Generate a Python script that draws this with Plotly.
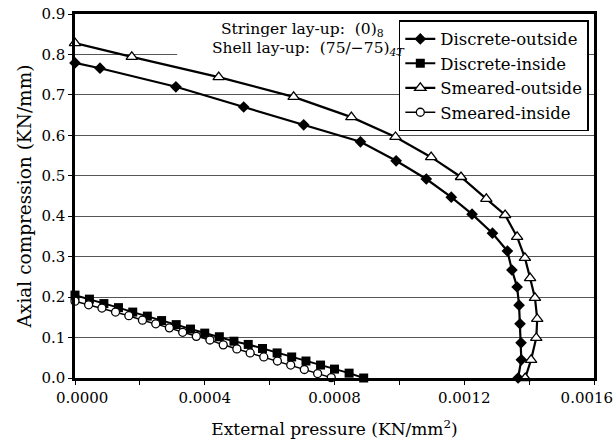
import plotly.graph_objects as go

# Discrete-outside (filled diamonds)
do_x = [0.0, 0.000077, 0.000311, 0.00052, 0.000705, 0.00088, 0.00099, 0.001083, 0.00116, 0.001224,
        0.001287, 0.001333, 0.001347, 0.001363, 0.001369, 0.001372, 0.001375, 0.001376, 0.001366]
do_y = [0.779, 0.766, 0.72, 0.67, 0.626, 0.584, 0.537, 0.492, 0.447, 0.405,
        0.358, 0.314, 0.267, 0.225, 0.18, 0.134, 0.087, 0.045, 0.0]

# Discrete-inside (filled squares)
di_x = [0.0, 0.0000445, 0.000089, 0.000134, 0.000178, 0.000223, 0.000267, 0.000312, 0.000356, 0.0004,
        0.000445, 0.00049, 0.000534, 0.000578, 0.000623, 0.000668, 0.000712, 0.000757, 0.0008, 0.000845, 0.00089]
di_y = [0.205, 0.195, 0.184, 0.174, 0.163, 0.153, 0.142, 0.132, 0.121, 0.111,
        0.102, 0.091, 0.083, 0.073, 0.062, 0.052, 0.042, 0.032, 0.022, 0.012, 0.0]

# Smeared-outside (open triangles)
so_x = [0.0, 0.000175, 0.000443, 0.000674, 0.000852, 0.000988, 0.001098, 0.00119, 0.001268, 0.001326,
        0.001363, 0.001387, 0.001403, 0.001418, 0.001425, 0.001422, 0.001406, 0.001388]
so_y = [0.828, 0.794, 0.744, 0.695, 0.645, 0.596, 0.546, 0.497, 0.443, 0.403,
        0.349, 0.297, 0.247, 0.198, 0.146, 0.099, 0.045, 0.0]

# Smeared-inside (open circles)
si_x = [0.0, 0.000042, 0.000083, 0.000125, 0.000166, 0.000208, 0.000249, 0.000291, 0.000332, 0.000374,
        0.000416, 0.000457, 0.000499, 0.00054, 0.000582, 0.000624, 0.000665, 0.000707, 0.000748, 0.00079]
si_y = [0.19, 0.181, 0.173, 0.163, 0.154, 0.143, 0.134, 0.124, 0.113, 0.103,
        0.094, 0.082, 0.072, 0.062, 0.052, 0.042, 0.032, 0.021, 0.011, 0.001]

x_ticks = [0.0, 0.0004, 0.0008, 0.0012, 0.0016]
x_tick_labels = ["\u00a0\u00a0\u00a00.0000", "0.0004", "0.0008", "0.0012", "0.0016\u00a0\u00a0\u00a0"]
y_ticks = [0.0, 0.1, 0.2, 0.3, 0.4, 0.5, 0.6, 0.7, 0.8, 0.9]

FONT = "DejaVu Serif"

fig = go.Figure()
fig.add_trace(go.Scatter(x=do_x, y=do_y, mode="lines+markers", name="Discrete-outside",
                         line=dict(color="black", width=2.2), cliponaxis=False,
                         marker=dict(symbol="diamond", size=9, color="black")))
fig.add_trace(go.Scatter(x=di_x, y=di_y, mode="lines+markers", name="Discrete-inside",
                         line=dict(color="black", width=2), cliponaxis=False,
                         marker=dict(symbol="square", size=9, color="black")))
fig.add_trace(go.Scatter(x=so_x, y=so_y, mode="lines+markers", name="Smeared-outside",
                         line=dict(color="black", width=2.2), cliponaxis=False,
                         marker=dict(symbol="triangle-up", size=10, color="white",
                                     line=dict(color="black", width=1.3))))
fig.add_trace(go.Scatter(x=si_x, y=si_y, mode="lines+markers", name="Smeared-inside",
                         line=dict(color="black", width=1.5), cliponaxis=False,
                         marker=dict(symbol="circle", size=8, color="white",
                                     line=dict(color="black", width=1.3))))

# white area behind the lay-up text (hides the gridline there)
fig.add_shape(type="rect", xref="x", yref="y", x0=0.000315, x1=0.00099, y0=0.775, y1=0.895,
              fillcolor="white", line=dict(width=0), layer="between")

fig.add_annotation(x=0.00096, y=0.861, xref="x", yref="y", xanchor="right", yanchor="middle",
                   text="Stringer lay-up:  (0)<sub>8</sub>", showarrow=False,
                   font=dict(family=FONT, size=15.5, color="black"))
fig.add_annotation(x=0.00102, y=0.813, xref="x", yref="y", xanchor="right", yanchor="middle",
                   text="Shell lay-up:  (75/−75)<sub><i>4T</i></sub>", showarrow=False,
                   font=dict(family=FONT, size=15.5, color="black"))

fig.update_layout(
    width=615, height=444,
    margin=dict(l=75, r=21, t=14, b=66),
    paper_bgcolor="white", plot_bgcolor="white",
    font=dict(family=FONT, size=15, color="black"),
    showlegend=True,
    legend=dict(x=0.99, y=0.983, xanchor="right", yanchor="top",
                bgcolor="white", bordercolor="black", borderwidth=1.5,
                font=dict(family=FONT, size=16.5, color="black"),
                itemwidth=30, tracegroupgap=0),
)
fig.update_xaxes(range=[0, 0.0016], tickvals=x_ticks, ticktext=x_tick_labels,
                 showgrid=False, showline=True, linecolor="black", linewidth=2.5, mirror=True,
                 ticks="outside", ticklen=4, tickcolor="black", ticklabeloverflow="allow",
                 automargin=False,
                 minor=dict(dtick=0.0002, ticks="outside", ticklen=4, tickcolor="black"),
                 title=dict(text="External pressure (KN/mm<sup>2</sup>)", standoff=18,
                            font=dict(family=FONT, size=17)),
                 zeroline=False)
fig.update_yaxes(range=[0, 0.9], tickvals=y_ticks, tickformat=".1f",
                 showgrid=True, gridcolor="#555", gridwidth=1,
                 showline=True, linecolor="black", linewidth=2.5, mirror=True,
                 ticks="outside", ticklen=4, tickcolor="black", automargin=False,
                 title=dict(text="Axial compression (KN/mm)", standoff=5,
                            font=dict(family=FONT, size=18.5)),
                 zeroline=False)

fig.write_html("out.html")
